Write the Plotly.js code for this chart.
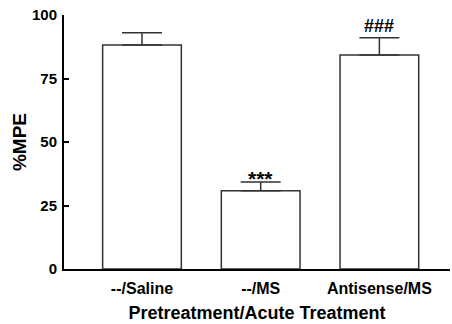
<!DOCTYPE html>
<html>
<head>
<meta charset="utf-8">
<script src="https://cdn.plot.ly/plotly-3.0.1.min.js"></script>
<style>html,body{margin:0;padding:0;background:#fff;}#chart{width:452px;height:324px;}</style>
</head>
<body>
<div id="chart"></div>
<script>
const categories = ["--/Saline", "--/MS", "Antisense/MS"];
const meanMPE = [88.2, 30.8, 84.3];
const semMPE = [4.8, 3.5, 6.7];
const markers = ["", "***", "###"];
const yTicks = [0, 25, 50, 75, 100];

const xs = categories.map((c, i) => i);
const trace = {
  type: "bar",
  x: xs,
  y: meanMPE,
  width: 0.663,
  marker: {color: "#ffffff", line: {color: "#333333", width: 1.5}},
  error_y: {type: "data", array: semMPE, arrayminus: semMPE.map(() => 0), symmetric: false,
            color: "#333333", thickness: 1.5, width: 20},
  hoverinfo: "skip"
};
const markerStyle = {"***": {size: 21, shift: -10}, "###": {size: 18, shift: 0}};
const annotations = markers.map((m, i) => m ? ({
  x: xs[i], y: meanMPE[i] + semMPE[i], text: "<b>" + m + "</b>", showarrow: false,
  yanchor: "bottom", yshift: markerStyle[m].shift,
  font: {family: "Liberation Sans, Arial, sans-serif", size: markerStyle[m].size, color: "#000"}
}) : null).filter(a => a);

const layout = {
  width: 452, height: 324,
  margin: {l: 64, r: 2, t: 15, b: 55},
  paper_bgcolor: "#fff", plot_bgcolor: "#fff",
  showlegend: false,
  font: {family: "Liberation Sans, Arial, sans-serif", color: "#000"},
  xaxis: {
    range: [-0.657, 2.595], tickvals: xs, ticktext: categories.map(c => "<b>" + c + "</b>"),
    showline: true, linecolor: "#000", linewidth: 2, ticks: "", showgrid: false, zeroline: false,
    tickfont: {size: 16, color: "#000"}, ticklabelstandoff: 4,
    title: {text: "<b>Pretreatment/Acute Treatment</b>", font: {size: 18, color: "#000"}, standoff: 10}
  },
  yaxis: {
    range: [0, 100], tickvals: yTicks, ticktext: yTicks.map(v => "<b>" + v + "</b>"),
    showline: true, linecolor: "#000", linewidth: 2, ticks: "inside", ticklen: 5, tickwidth: 2, tickcolor: "#000",
    showgrid: false, zeroline: false,
    tickfont: {size: 15, color: "#000"}, ticklabelstandoff: 2,
    title: {text: "<b>%MPE</b>", font: {size: 19, color: "#000"}, standoff: 0}
  },
  annotations: annotations
};
Plotly.newPlot("chart", [trace], layout, {displayModeBar: false, staticPlot: true});
</script>
</body>
</html>
